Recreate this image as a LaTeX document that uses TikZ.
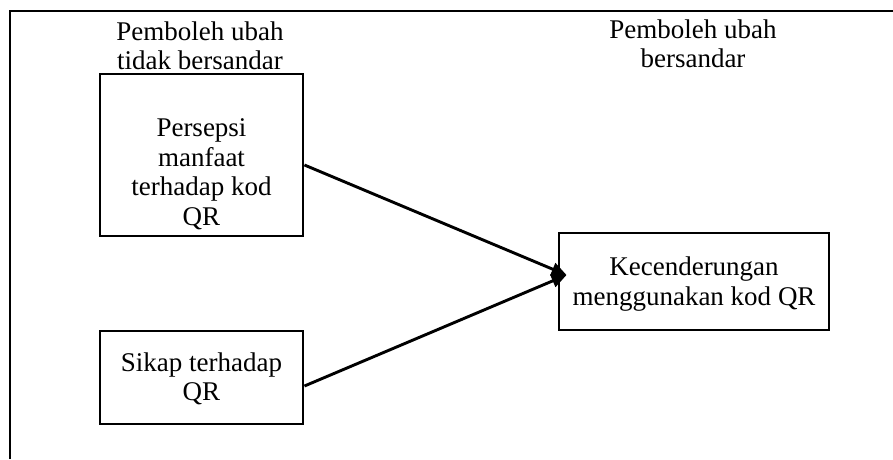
\documentclass[tikz,border=0pt]{standalone}
\usepackage{fontspec}
\setmainfont{Liberation Serif}
\usetikzlibrary{arrows.meta}
\begin{document}
\begin{tikzpicture}[x=1pt,y=-1pt,
  frame/.style={line width=2.9pt},
  box/.style={draw,line width=2.9pt,inner sep=0pt},
  txt/.style={align=center,inner sep=0pt,font=\fontsize{27}{29.5}\selectfont},
  arr/.style={line width=2.9pt,-{Triangle[length=15pt,width=13pt]}}]
\useasboundingbox (0,0) rectangle (893,459);
\coordinate (fl) at (10,459);
\coordinate (fc) at (10,11);
\coordinate (fr) at (893,11);
\draw[frame] (fl) -- (fc) -- (fr);
\node[txt] (h1) at (200,46) {Pemboleh ubah\\tidak bersandar};
\node[txt] (h2) at (693,44) {Pemboleh ubah\\bersandar};
\node[box,minimum width=203pt,minimum height=162pt] (b1) at (201.5,155) {};
\node[txt] (t1) at (201.5,174) {Persepsi\\manfaat\\terhadap kod\\QR};
\node[box,minimum width=203pt,minimum height=93pt] (b2) at (201.5,377.5) {};
\node[txt] (t2) at (201.5,379) {Sikap terhadap\\QR};
\node[box,minimum width=270pt,minimum height=97pt] (b3) at (694,281.5) {};
\node[txt] (t3) at (694,284) {Kecenderungan\\menggunakan kod QR};
\draw[arr] ([yshift=-10pt]b1.east) -- ([xshift=9pt,yshift=6.5pt]b3.west);
\draw[arr] ([yshift=-8.5pt]b2.east) -- ([xshift=9pt,yshift=6.5pt]b3.west);
\end{tikzpicture}
\end{document}
